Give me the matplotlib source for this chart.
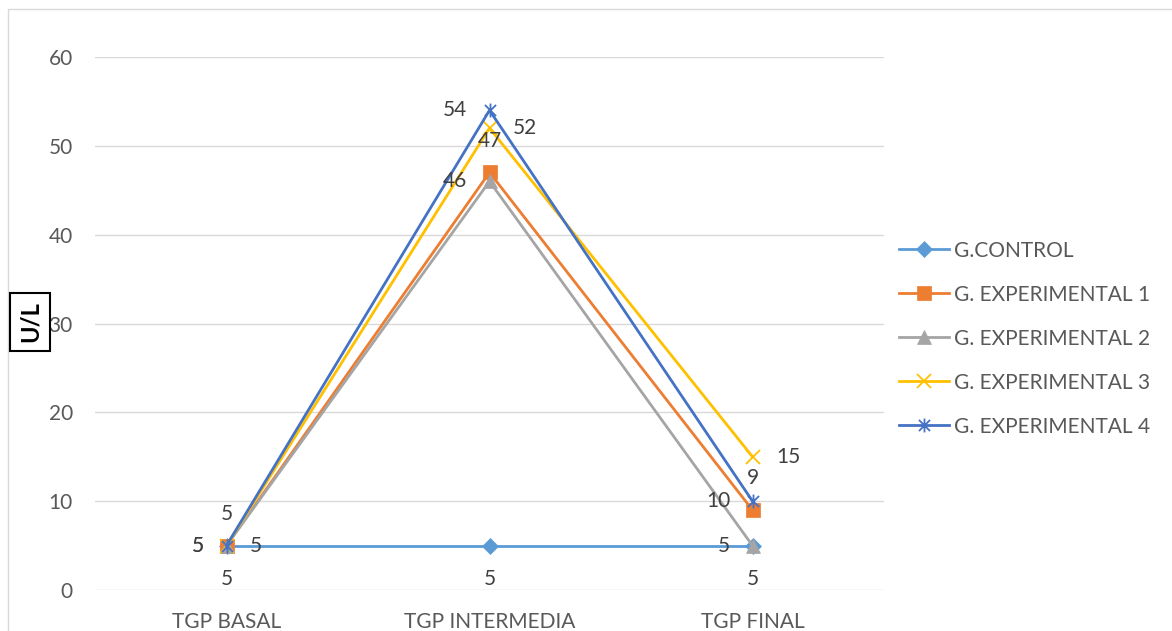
import numpy as np
import matplotlib.pyplot as plt
from matplotlib.path import Path
from matplotlib.patches import Rectangle

# =========================
# DATA
# =========================

categories = ["TGP BASAL", "TGP INTERMEDIA", "TGP FINAL"]
series_names = ["G.CONTROL", "G. EXPERIMENTAL 1", "G. EXPERIMENTAL 2",
                "G. EXPERIMENTAL 3", "G. EXPERIMENTAL 4"]
control = [5, 5, 5]
experimental_1 = [5, 47, 9]
experimental_2 = [5, 46, 5]
experimental_3 = [5, 52, 15]
experimental_4 = [5, 54, 10]
y_ticks = [0, 10, 20, 30, 40, 50, 60]

# =========================
# STYLE
# =========================

plt.rcParams["font.family"] = ["Lato", "DejaVu Sans"]

colors = ["#5B9BD5", "#ED7D31", "#A5A5A5", "#FFC000", "#4472C4"]

star = Path(
    [(-1, -1), (1, 1), (-1, 1), (1, -1), (0, -1.25), (0, 1.25)],
    [Path.MOVETO, Path.LINETO, Path.MOVETO, Path.LINETO, Path.MOVETO, Path.LINETO],
)
markers = ["D", "s", "^", "x", star]
marker_sizes = [8, 10, 10, 10, 10]
# where each series puts its data labels (Excel style)
label_pos = ["below", "above", "left", "right", "left"]

fig = plt.figure(figsize=(11.72, 6.31), dpi=100)
fig.patches.append(Rectangle((8 / 1172, -0.05), 1.2, 1 - 9 / 631 + 0.05,
                             transform=fig.transFigure, fill=False,
                             edgecolor="#D9D9D9", linewidth=1))

ax = fig.add_axes([95 / 1172, 1 - 590 / 631, (884 - 95) / 1172, (590 - 57) / 631])

x = np.arange(len(categories))
all_series = [control, experimental_1, experimental_2, experimental_3, experimental_4]

for name, values, color, marker, ms, pos in zip(series_names, all_series, colors,
                                                markers, marker_sizes, label_pos):
    filled = marker not in ("x",) and marker is not star
    ax.plot(x, values, color=color, linewidth=2, marker=marker, markersize=ms,
            markerfacecolor=color if filled else "none", markeredgecolor=color,
            markeredgewidth=1.3 if not filled else 0.5, label=name, clip_on=False)
    for xi, v in zip(x, values):
        if pos == "below":
            off, ha, va = (0, -24), "center", "center"
        elif pos == "above":
            off, ha, va = (0, 23), "center", "center"
        elif pos == "left":
            off, ha, va = (-16, 0), "right", "center"
        else:
            off, ha, va = (17, 0), "left", "center"
        ax.annotate(str(v), (xi, v), xytext=off, textcoords="offset points",
                    ha=ha, va=va, fontsize=15, color="#404040")

ax.set_xlim(-0.5, 2.5)
ax.set_ylim(0, 60)
ax.set_yticks(y_ticks)
ax.set_xticks(x)
ax.set_xticklabels(categories)
ax.tick_params(length=0, labelsize=15, labelcolor="#595959", pad=16)
ax.tick_params(axis="y", pad=16)
ax.grid(axis="y", color="#D9D9D9", linewidth=1)
ax.set_axisbelow(True)
for s in ax.spines.values():
    s.set_visible(False)

fig.text(30 / 1172, 1 - 322 / 631, "U/L", rotation=90, ha="center", va="center",
         fontsize=17, fontweight="bold", color="black",
         bbox=dict(boxstyle="square,pad=0.35", facecolor="white", edgecolor="black",
                   linewidth=1.5))

fig.legend(loc="upper left", bbox_to_anchor=(880 / 1172, 1 - 222 / 631),
           frameon=False, fontsize=15, labelcolor="#595959", handlelength=2.4,
           handletextpad=0.25, labelspacing=1.15)

fig.savefig("out.png", dpi=100)
